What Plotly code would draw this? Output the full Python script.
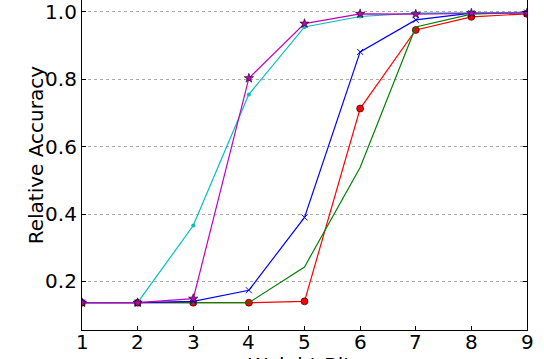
import plotly.graph_objects as go

bits = [1, 2, 3, 4, 5, 6, 7, 8, 9]
red_vals = [0.137, 0.137, 0.137, 0.137, 0.141, 0.713, 0.946, 0.985, 0.994]
green_vals = [0.137, 0.137, 0.137, 0.137, 0.243, 0.538, 0.955, 0.993, 0.998]
blue_vals = [0.137, 0.137, 0.141, 0.174, 0.390, 0.881, 0.976, 0.996, 0.998]
cyan_vals = [0.137, 0.137, 0.366, 0.755, 0.955, 0.986, 0.996, 0.998, 0.998]
magenta_vals = [0.137, 0.137, 0.149, 0.803, 0.965, 0.994, 0.993, 0.996, 0.997]
y_ticks = [0.2, 0.4, 0.6, 0.8, 1.0]
y_tick_labels = ["0.2", "0.4", "0.6", "0.8", "1.0"]
x_tick_labels = [str(b) for b in bits]

FONT = "DejaVu Sans"
FS = 20

fig = go.Figure()
fig.add_trace(go.Scatter(x=bits, y=red_vals, mode="lines+markers",
                         line=dict(color="#FF0000", width=1.2),
                         marker=dict(symbol="circle", size=7, color="#FF0000",
                                     line=dict(color="#000000", width=0.6))))
fig.add_trace(go.Scatter(x=bits, y=green_vals, mode="lines",
                         line=dict(color="#008000", width=1.2)))
fig.add_trace(go.Scatter(x=bits, y=blue_vals, mode="lines+markers",
                         line=dict(color="#0000FF", width=1.2),
                         marker=dict(symbol="x-thin", size=6,
                                     line=dict(color="#0000FF", width=1))))
fig.add_trace(go.Scatter(x=bits, y=cyan_vals, mode="lines+markers",
                         line=dict(color="#00BFBF", width=1.2),
                         marker=dict(symbol="circle", size=4, color="#00BFBF",
                                     line=dict(width=0))))
fig.add_trace(go.Scatter(x=bits, y=magenta_vals, mode="lines+markers",
                         line=dict(color="#BF00BF", width=1.2),
                         marker=dict(symbol="star", size=7, color="#BF00BF",
                                     line=dict(color="#000000", width=0.6))))

fig.update_layout(
    width=544, height=359,
    margin=dict(l=82, r=17, t=0, b=29, autoexpand=False),
    paper_bgcolor="white", plot_bgcolor="white",
    showlegend=False,
    font=dict(family=FONT, size=FS, color="black"),
)
fig.update_xaxes(
    range=[1, 9], tickvals=bits, showticklabels=False, automargin=False,
    showgrid=False, zeroline=False,
    showline=True, linecolor="black", linewidth=1.2, mirror=False,
    ticks="inside", ticklen=4, tickcolor="black",
)
fig.update_yaxes(
    range=[0.056, 1.035], tickvals=y_ticks, ticktext=y_tick_labels, automargin=False,
    ticklabeloverflow="allow",
    showgrid=True, gridcolor="#aaaaaa", griddash="dot", gridwidth=1,
    zeroline=False,
    showline=True, linecolor="black", linewidth=1.2, mirror="ticks",
    ticks="inside", ticklen=4, tickcolor="black",
    tickfont=dict(family=FONT, size=FS),
)
for b, lab in zip(bits, x_tick_labels):
    fig.add_annotation(text=lab, x=b, xref="x", y=-0.036, yref="paper",
                       xanchor="center", yanchor="middle", showarrow=False,
                       font=dict(family=FONT, size=FS))
fig.add_annotation(text="Weight Bits", xref="paper", yref="paper",
                   x=0.5, y=-0.064, yanchor="top", xanchor="center",
                   showarrow=False, font=dict(family=FONT, size=FS))
fig.add_annotation(text="Relative Accuracy", xref="paper", yref="paper",
                   x=-0.103, y=0.53, xanchor="center", yanchor="middle",
                   textangle=-90, showarrow=False, font=dict(family=FONT, size=FS))

fig.write_html("out.html", config={"displayModeBar": False},
               post_script="document.body.style.margin='0';document.body.style.overflow='hidden';")
